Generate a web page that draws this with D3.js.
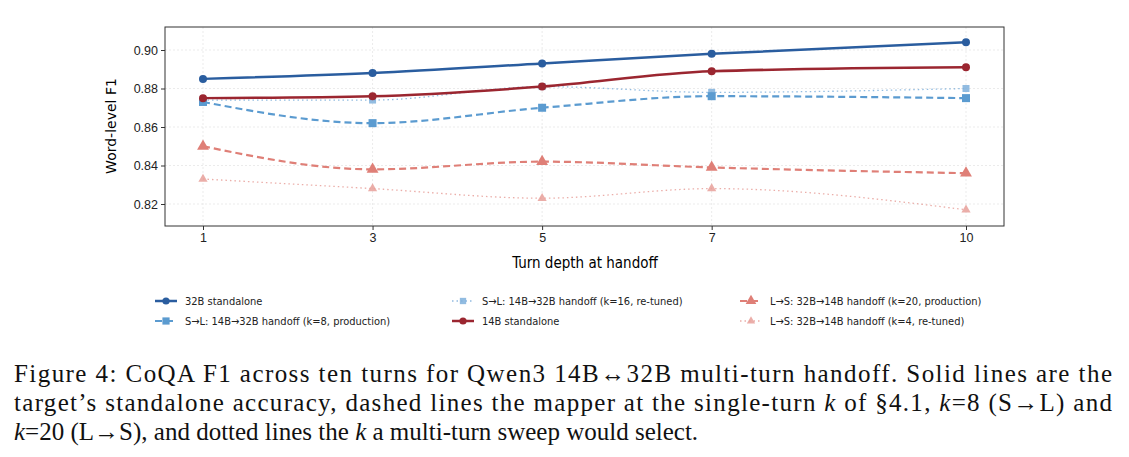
<!DOCTYPE html><html><head><meta charset="utf-8">
<script src="https://cdn.jsdelivr.net/npm/d3@7"></script>
<style>body{margin:0;background:#fff}svg{font-family:"DejaVu Sans Condensed","DejaVu Sans",sans-serif}</style></head><body>
<svg id="c" width="1129" height="457"></svg>
<script>
const turns=[1,3,5,7,10];
const b32=[0.885,0.888,0.893,0.898,0.904];
const b14=[0.875,0.876,0.881,0.889,0.891];
const slK8=[0.873,0.862,0.870,0.876,0.875];
const slK16=[0.874,0.874,0.881,0.878,0.880];
const lsK20=[0.850,0.838,0.842,0.839,0.836];
const lsK4=[0.833,0.828,0.823,0.828,0.817];
const yTicks=[0.82,0.84,0.86,0.88,0.90];
const series=[
{name:"32B standalone",v:b32,c:"#2a5d9f",w:2.5,dash:null,m:"circle",op:1,ms:4},
{name:"S→L: 14B→32B handoff (k=8, production)",v:slK8,c:"#5b9bd0",w:2.2,dash:"7,4",m:"square",op:1,ms:4},
{name:"S→L: 14B→32B handoff (k=16, re-tuned)",v:slK16,c:"#7fb0dc",w:1.3,dash:"1.5,3",m:"square",op:0.85,ms:3.5},
{name:"14B standalone",v:b14,c:"#9b2630",w:2.5,dash:null,m:"circle",op:1,ms:4},
{name:"L→S: 32B→14B handoff (k=20, production)",v:lsK20,c:"#df7f77",w:2.2,dash:"7,4",m:"tri",op:1,ms:4.5},
{name:"L→S: 32B→14B handoff (k=4, re-tuned)",v:lsK4,c:"#e8a09a",w:1.3,dash:"1.5,3",m:"tri",op:0.85,ms:3.5}];
const svg=d3.select("#c");
const L=165,R=1004,T=27,B=226;
const x=d3.scaleLinear().domain([1,10]).range([203,966]);
const y=d3.scaleLinear().domain([0.82,0.90]).range([204,50]);
const g=svg.append("g");
yTicks.forEach(t=>g.append("line").attr("x1",L).attr("x2",R).attr("y1",y(t)).attr("y2",y(t)).attr("stroke","#ddd").attr("stroke-width",0.6).attr("stroke-dasharray","2,2"));
turns.forEach(t=>g.append("line").attr("x1",x(t)).attr("x2",x(t)).attr("y1",T).attr("y2",B).attr("stroke","#ddd").attr("stroke-width",0.6).attr("stroke-dasharray","2,2"));
const ya=svg.append("g").attr("transform",`translate(${L},0)`).call(d3.axisLeft(y).tickValues(yTicks).tickFormat(d3.format(".2f")).tickSize(4));
const xa=svg.append("g").attr("transform",`translate(0,${B})`).call(d3.axisBottom(x).tickValues(turns).tickSize(4));
[ya,xa].forEach(a=>{a.select(".domain").remove();a.selectAll("text").attr("font-size",12.5).attr("fill","#222");a.selectAll("line").attr("stroke","#333");});
svg.append("rect").attr("x",L).attr("y",T).attr("width",R-L).attr("height",B-T).attr("fill","none").attr("stroke","#333").attr("stroke-width",1);
svg.append("text").attr("x",585).attr("y",268).attr("text-anchor","middle").attr("font-size",15).text("Turn depth at handoff");
svg.append("text").attr("transform","translate(116,126) rotate(-90)").attr("text-anchor","middle").attr("font-size",14).attr("font-family","DejaVu Sans").text("Word-level F1");
function marker(sel,m,s,c,op){
 if(m==="circle")sel.append("circle").attr("r",s).attr("fill",c).attr("opacity",op);
 else if(m==="square")sel.append("rect").attr("x",-s).attr("y",-s).attr("width",2*s).attr("height",2*s).attr("fill",c).attr("opacity",op);
 else sel.append("path").attr("d",d3.symbol(d3.symbolTriangle,s*s*3)).attr("fill",c).attr("opacity",op);
}
const line=d3.line().x((d,i)=>x(turns[i])).y(d=>y(d)).curve(d3.curveMonotoneX);
const order=[2,5,4,1,3,0];
order.forEach(k=>{const s=series[k];
 svg.append("path").attr("d",line(s.v)).attr("fill","none").attr("stroke",s.c).attr("stroke-width",s.w).attr("opacity",s.op).attr("stroke-dasharray",s.dash);
 s.v.forEach((v,i)=>marker(svg.append("g").attr("transform",`translate(${x(turns[i])},${y(v)})`),s.m,s.ms,s.c,s.op));
});
const legPos=[[155,301],[155,321],[452,301],[452,321],[740,301],[740,321]];
series.forEach((s,k)=>{const [lx,ly]=legPos[k];
 svg.append("line").attr("x1",lx).attr("x2",lx+22).attr("y1",ly).attr("y2",ly).attr("stroke",s.c).attr("stroke-width",s.w).attr("stroke-dasharray",s.dash).attr("opacity",s.op);
 marker(svg.append("g").attr("transform",`translate(${lx+11},${ly})`),s.m,s.ms*0.9,s.c,s.op);
 svg.append("text").attr("x",lx+30).attr("y",ly+4).attr("font-size",11).attr("fill","#222").text(s.name);
});
const cap=[["Figure 4: CoQA F1 across ten turns for Qwen3 14B↔32B multi-turn handoff. Solid lines are the"],
["target’s standalone accuracy, dashed lines the mapper at the single-turn ",["k"]," of §4.1, ",["k"],"=8 (S→L) and"],
[["k"],"=20 (L→S), and dotted lines the ",["k"]," a multi-turn sweep would select."]];
cap.forEach((parts,i)=>{const t=svg.append("text").attr("x",14).attr("y",382+i*29).attr("font-family","Liberation Serif").attr("font-size",25).attr("fill","#111");
 if(i<2)t.attr("textLength",1098).attr("lengthAdjust","spacing");
 parts.forEach(p=>{const ts=t.append("tspan").text(Array.isArray(p)?p[0]:p);if(Array.isArray(p))ts.attr("font-style","italic");});});
</script></body></html>
